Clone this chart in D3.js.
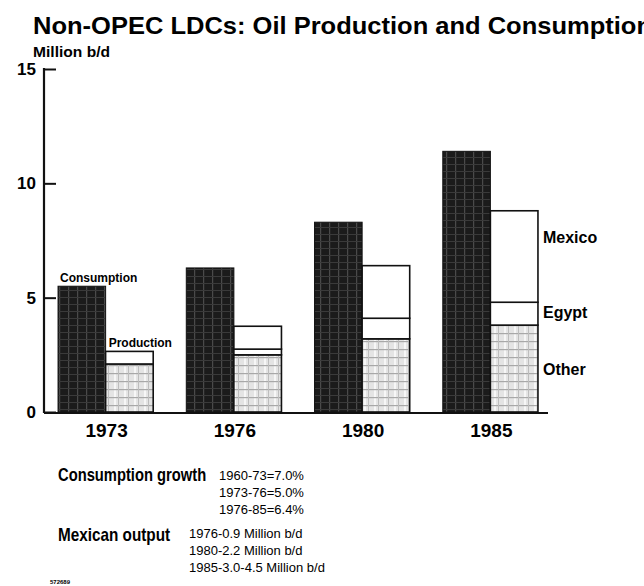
<!DOCTYPE html>
<html>
<head>
<meta charset="utf-8">
<script src="https://cdn.jsdelivr.net/npm/d3@7"></script>
<style>
  body { margin: 0; background: #fff; }
  svg { display: block; font-family: "Liberation Sans", Arial, sans-serif; }
</style>
</head>
<body>
<svg></svg>
<script>
// chart data
var years = ["1973", "1976", "1980", "1985"];
var consumption = [5.5, 6.3, 8.3, 11.4];
var otherProd = [2.1, 2.5, 3.2, 3.8];
var egyptProd = [0.55, 0.25, 0.9, 1.0];
var mexicoProd = [0, 1.0, 2.3, 4.0];
var yTicks = [0, 5, 10, 15];

var growthLines = ["1960-73=7.0%", "1973-76=5.0%", "1976-85=6.4%"];
var mexicoLines = ["1976-0.9 Million b/d", "1980-2.2 Million b/d", "1985-3.0-4.5 Million b/d"];

var svgWidth = 644, svgHeight = 586;

var svg = d3.select('svg')
    .attr('width', svgWidth)
    .attr('height', svgHeight);

// textures for the shaded bars
var defs = svg.append('defs');
var dark = defs.append('pattern').attr('id', 'darkTex')
    .attr('patternUnits', 'userSpaceOnUse').attr('width', 9).attr('height', 7);
dark.append('rect').attr('width', 9).attr('height', 7).attr('fill', '#1b1b1b');
dark.append('rect').attr('x', 5).attr('width', 1.2).attr('height', 7).attr('fill', '#4a4a4a');
dark.append('rect').attr('y', 3).attr('width', 9).attr('height', 1).attr('fill', '#3a3a3a');

var light = defs.append('pattern').attr('id', 'lightTex')
    .attr('patternUnits', 'userSpaceOnUse').attr('width', 10).attr('height', 8);
light.append('rect').attr('width', 10).attr('height', 8).attr('fill', '#e4e4e4');
light.append('rect').attr('x', 4).attr('width', 2).attr('height', 8).attr('fill', '#f7f7f7');
light.append('rect').attr('y', 5).attr('width', 10).attr('height', 1.2).attr('fill', '#a8a8a8');
light.append('rect').attr('x', 8).attr('width', 1).attr('height', 8).attr('fill', '#bdbdbd');

var y = d3.scaleLinear().domain([0, 15]).range([412, 69]);

var x = d3.scaleBand().domain(years)
    .range([41.5, 554.5])
    .paddingInner(0.258)
    .paddingOuter(0.129);

var sub = d3.scaleBand().domain(['cons', 'prod'])
    .range([0, x.bandwidth()]);

// title (runs off the right edge like the original)
svg.append('text').attr('x', 33).attr('y', 34)
    .attr('font-size', 24).attr('font-weight', 'bold')
    .attr('textLength', 619).attr('lengthAdjust', 'spacingAndGlyphs')
    .text('Non-OPEC LDCs: Oil Production and Consumption');
svg.append('text').attr('x', 33).attr('y', 57)
    .attr('font-size', 15).attr('font-weight', 'bold')
    .attr('textLength', 77).attr('lengthAdjust', 'spacingAndGlyphs')
    .text('Million b/d');

// y axis with ticks to the inside
var yAxis = d3.axisRight(y).tickValues(yTicks).tickSize(12).tickFormat('');
var gy = svg.append('g').attr('transform', 'translate(44,0)').call(yAxis);
gy.select('.domain').remove();
gy.selectAll('.tick line').attr('stroke', '#111').attr('stroke-width', 2);
svg.append('line')
    .attr('x1', 44).attr('x2', 44)
    .attr('y1', y(15) - 1).attr('y2', y(0) + 1)
    .attr('stroke', '#111').attr('stroke-width', 2.2);

svg.selectAll('.ylab')
    .data(yTicks)
    .enter()
    .append('text')
    .attr('class', 'ylab')
    .attr('x', 36)
    .attr('y', function(d) { return y(d) + 6; })
    .attr('text-anchor', 'end')
    .attr('font-size', 17).attr('font-weight', 'bold')
    .text(function(d) { return d; });

// baseline
svg.append('line')
    .attr('x1', 44).attr('x2', 548)
    .attr('y1', y(0) + 1).attr('y2', y(0) + 1)
    .attr('stroke', '#111').attr('stroke-width', 2);

// consumption bars
svg.selectAll('.cons')
    .data(consumption)
    .enter()
    .append('rect')
    .attr('class', 'cons')
    .attr('x', function(d, i) { return x(years[i]) + sub('cons'); })
    .attr('y', function(d) { return y(d); })
    .attr('width', sub.bandwidth())
    .attr('height', function(d) { return y(0) - y(d); })
    .attr('fill', 'url(#darkTex)')
    .attr('stroke', '#111').attr('stroke-width', 1);

// production stacks: other, egypt, mexico
var prodRows = years.map(function(yr, i) {
  return { year: yr, other: otherProd[i], egypt: egyptProd[i], mexico: mexicoProd[i] };
});
var stack = d3.stack().keys(['other', 'egypt', 'mexico'])(prodRows);
var fills = { other: 'url(#lightTex)', egypt: '#fff', mexico: '#fff' };

stack.forEach(function(layer) {
  svg.selectAll('.prod-' + layer.key)
      .data(layer)
      .enter()
      .append('rect')
      .attr('class', 'prod-' + layer.key)
      .attr('x', function(d) { return x(d.data.year) + sub('prod'); })
      .attr('y', function(d) { return y(d[1]); })
      .attr('width', sub.bandwidth())
      .attr('height', function(d) { return y(d[0]) - y(d[1]); })
      .attr('fill', fills[layer.key])
      .attr('stroke', '#111').attr('stroke-width', 1.6);
});

// year labels
svg.selectAll('.year')
    .data(years)
    .enter()
    .append('text')
    .attr('class', 'year')
    .attr('x', function(d) { return x(d) + x.bandwidth() / 2 + 1; })
    .attr('y', 437)
    .attr('text-anchor', 'middle')
    .attr('font-size', 19).attr('font-weight', 'bold')
    .text(function(d) { return d; });

// series labels
svg.append('text').attr('x', x('1973') + 2).attr('y', y(consumption[0]) - 4)
    .attr('font-size', 12).attr('font-weight', 'bold').text('Consumption');
svg.append('text').attr('x', x('1973') + sub('prod') + 3)
    .attr('y', y(otherProd[0] + egyptProd[0] + mexicoProd[0]) - 4)
    .attr('font-size', 12).attr('font-weight', 'bold').text('Production');

var last = 3;
var lx = x(years[last]) + x.bandwidth() + 5;
var segLabels = [
  { name: 'Mexico', v: otherProd[last] + egyptProd[last] + mexicoProd[last] * 0.71 },
  { name: 'Egypt', v: otherProd[last] + egyptProd[last] * 0.57 },
  { name: 'Other', v: otherProd[last] * 0.49 }
];
svg.selectAll('.seg')
    .data(segLabels)
    .enter()
    .append('text')
    .attr('class', 'seg')
    .attr('x', lx)
    .attr('y', function(d) { return y(d.v) + 6; })
    .attr('font-size', 16).attr('font-weight', 'bold')
    .text(function(d) { return d.name; });

// notes under the chart (squeezed horizontally, the original face is condensed)
svg.append('text')
    .attr('transform', 'translate(58,481) scale(0.82,1)')
    .attr('font-size', 18).attr('font-weight', 'bold')
    .text('Consumption growth');
svg.selectAll('.growth')
    .data(growthLines)
    .enter()
    .append('text')
    .attr('class', 'growth')
    .attr('x', 219)
    .attr('y', function(d, i) { return 480 + i * 17; })
    .attr('font-size', 13)
    .text(function(d) { return d; });

svg.append('text')
    .attr('transform', 'translate(58,541) scale(0.85,1)')
    .attr('font-size', 18).attr('font-weight', 'bold')
    .text('Mexican output');
svg.selectAll('.mex')
    .data(mexicoLines)
    .enter()
    .append('text')
    .attr('class', 'mex')
    .attr('x', 189)
    .attr('y', function(d, i) { return 538 + i * 17; })
    .attr('font-size', 13)
    .text(function(d) { return d; });

svg.append('text').attr('x', 50).attr('y', 584)
    .attr('font-size', 6).attr('font-weight', 'bold')
    .text('572689');
</script>
</body>
</html>
